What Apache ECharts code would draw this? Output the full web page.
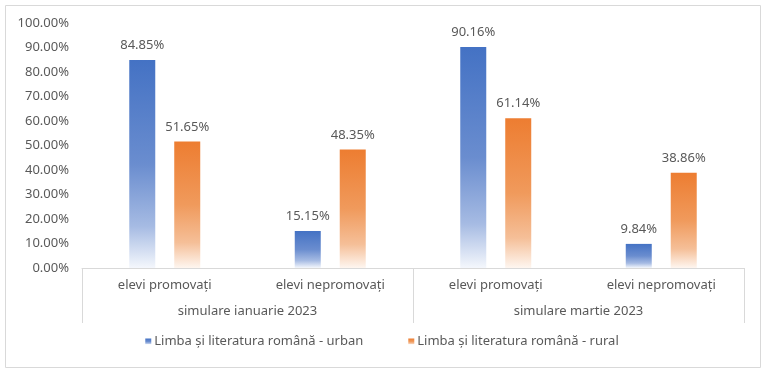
<!DOCTYPE html>
<html>
<head>
<meta charset="utf-8">
<script src="https://cdn.jsdelivr.net/npm/echarts@6/dist/echarts.min.js"></script>
<style>html,body{margin:0;padding:0;background:#fff}#c{width:764px;height:370px}</style>
</head>
<body>
<div id="c"></div>
<script>
const categories = ['elevi promovați', 'elevi nepromovați', 'elevi promovați', 'elevi nepromovați'];
const groups = ['simulare ianuarie 2023', 'simulare martie 2023'];
const seriesNames = ['Limba și literatura română - urban', 'Limba și literatura română - rural'];
const urban = [84.85, 15.15, 90.16, 9.84];
const rural = [51.65, 48.35, 61.14, 38.86];

const FONT = 'Noto Sans';
const TXT = '#595959';
const LINE = '#d9d9d9';

function grad(stops) {
  return {
    type: 'linear', x: 0, y: 0, x2: 0, y2: 1,
    colorStops: stops.map(s => ({ offset: s[0], color: s[1] }))
  };
}

const chart = echarts.init(document.getElementById('c'));
chart.setOption({
  animation: false,
  textStyle: { fontFamily: FONT },
  graphic: [{
    type: 'rect',
    shape: { x: 5.5, y: 5.5, width: 755, height: 362 },
    style: { fill: 'none', stroke: LINE, lineWidth: 1 },
    silent: true
  }],
  grid: { left: 82, right: 20, top: 23, bottom: 102 },
  legend: {
    data: seriesNames,
    bottom: 17,
    left: 'center',
    icon: 'rect',
    itemWidth: 6,
    itemHeight: 6,
    itemGap: 45,
    textStyle: { color: TXT, fontSize: 13, fontFamily: FONT, padding: [0, 0, 0, -2] }
  },
  xAxis: [{
    type: 'category',
    data: categories,
    position: 'bottom',
    axisLine: { show: true, lineStyle: { color: LINE } },
    axisTick: { show: false },
    axisLabel: { color: TXT, fontSize: 13, fontFamily: FONT, margin: 11 }
  }, {
    type: 'category',
    data: groups,
    position: 'bottom',
    axisLine: { show: false },
    axisTick: { show: true, length: 55, lineStyle: { color: LINE } },
    axisLabel: { color: TXT, fontSize: 13, fontFamily: FONT, margin: 37 }
  }],
  yAxis: {
    type: 'value',
    min: 0,
    max: 100,
    interval: 10,
    axisLine: { show: false },
    axisTick: { show: false },
    splitLine: { show: false },
    axisLabel: {
      color: TXT, fontSize: 13, fontFamily: FONT, margin: 13,
      formatter: v => v.toFixed(2) + '%'
    }
  },
  series: [{
    name: seriesNames[0],
    type: 'bar',
    data: urban,
    barWidth: 26,
    barGap: '73%',
    itemStyle: { color: grad([[0, '#4472C4'], [0.5, '#6a8dcf'], [0.8, '#a6bbe3'], [1, '#f4f7fc']]) },
    label: {
      show: true, position: 'top', distance: 8,
      color: TXT, fontSize: 13, fontFamily: FONT,
      formatter: p => p.value.toFixed(2) + '%'
    }
  }, {
    name: seriesNames[1],
    type: 'bar',
    data: rural,
    barWidth: 26,
    itemStyle: { color: grad([[0, '#ED7D31'], [0.5, '#f09a5c'], [0.8, '#f5bf98'], [1, '#fef6f0']]) },
    label: {
      show: true, position: 'top', distance: 8,
      color: TXT, fontSize: 13, fontFamily: FONT,
      formatter: p => p.value.toFixed(2) + '%'
    }
  }]
});
</script>
</body>
</html>
